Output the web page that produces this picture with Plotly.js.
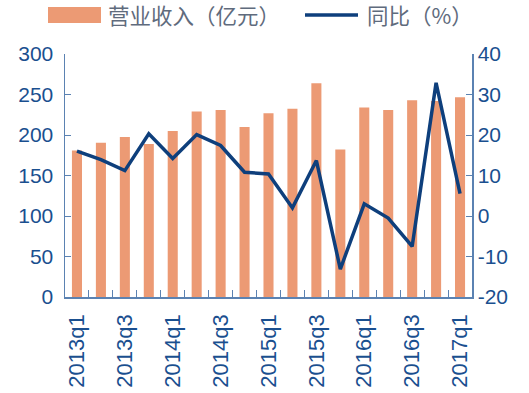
<!DOCTYPE html>
<html><head><meta charset="utf-8">
<script src="https://cdn.plot.ly/plotly-3.0.1.min.js"></script>
<style>html,body{margin:0;padding:0;background:#fff}#chart{width:529px;height:393px}</style>
</head><body><div id="chart"></div>
<script>
const categories = ["2013q1","2013q2","2013q3","2013q4","2014q1","2014q2","2014q3","2014q4","2015q1","2015q2","2015q3","2015q4","2016q1","2016q2","2016q3","2016q4","2017q1"];
const revenue = [181,190.5,197.5,189,205,229,231,210,227,232.5,264,182,234,231,243,242,246.5];
const yoy = [16.0,13.9,11.2,20.3,14.2,20.1,17.4,10.8,10.4,2.0,13.7,-13.1,3.0,-0.5,-7.5,32.9,5.5];
const yoyTicks = [-20,-10,0,10,20,30,40];
const yoyTickText = ["-20","-10","0","10","20","30","40"];
const revenueName = "营业收入（亿元）";
const yoyName = "同比（%）";

const barColor = "#ec9a74", lineColor = "#0e3f7c", axisCol = "#5b82b2", textCol = "#1a4f8f", legCol = "#5f6b7d";
const M = {l:65, r:57, t:54, b:96}, W = 529, H = 393;
const pw = W - M.l - M.r, ph = H - M.t - M.b;
const px = x => (x - M.l) / pw;           // pixel -> paper x
const py = y => (H - M.b - y) / ph;       // pixel -> paper y

const idx = categories.map((c,i)=>i);
const shown = idx.filter(i=>i%2===0);
const bounds = idx.slice(1).map(i=>i-0.5);
const tickFont = {family:"Liberation Sans, Arial, sans-serif", size:21, color:textCol};
const legFont = {family:"Noto Sans CJK SC, sans-serif", size:21.5, color:legCol};

const data = [
  {type:"bar", x:idx, y:revenue, name:revenueName, marker:{color:barColor}, width:0.42, yaxis:"y"},
  {type:"scatter", mode:"lines", x:idx, y:yoy, name:yoyName, line:{color:lineColor, width:3.5}, yaxis:"y2"}
];
const layout = {
  width:W, height:H, margin:M,
  paper_bgcolor:"#fff", plot_bgcolor:"#fff",
  showlegend:false,
  xaxis:{range:[-0.5,16.5], tickvals:shown, ticktext:shown.map(i=>categories[i]), tickangle:-90,
    showline:true, linecolor:axisCol, linewidth:1.5, ticks:"", showgrid:false, zeroline:false,
    ticklabelstandoff:7,
    tickfont:{family:"Liberation Sans, Arial, sans-serif", size:22, color:textCol},
    minor:{tickvals:bounds, ticks:"inside", ticklen:7, tickcolor:axisCol, tickwidth:1, showgrid:false}},
  yaxis:{range:[0,300], dtick:50, showline:true, linecolor:axisCol, linewidth:1.5, ticks:"inside", ticklen:6,
    tickcolor:axisCol, showgrid:false, zeroline:false, tickfont:tickFont, ticklabelstandoff:6},
  yaxis2:{range:[-20,40], tickvals:yoyTicks, ticktext:yoyTickText, overlaying:"y", side:"right", showline:true,
    linecolor:axisCol, linewidth:1.5, ticks:"inside", ticklen:6, tickcolor:axisCol, showgrid:false, zeroline:false,
    tickfont:tickFont},
  shapes:[
    {type:"rect", xref:"paper", yref:"paper", x0:px(48), x1:px(101), y0:py(23), y1:py(7), fillcolor:barColor, line:{width:0}},
    {type:"line", xref:"paper", yref:"paper", x0:px(305), x1:px(358), y0:py(15), y1:py(15), line:{color:lineColor, width:3.5}}
  ],
  annotations:[
    {xref:"paper", yref:"paper", x:px(106), y:py(15), xanchor:"left", yanchor:"middle", text:revenueName, showarrow:false, font:legFont},
    {xref:"paper", yref:"paper", x:px(365), y:py(15), xanchor:"left", yanchor:"middle", text:yoyName, showarrow:false, font:legFont}
  ]
};
Plotly.newPlot("chart", data, layout, {staticPlot:true});
</script></body></html>
